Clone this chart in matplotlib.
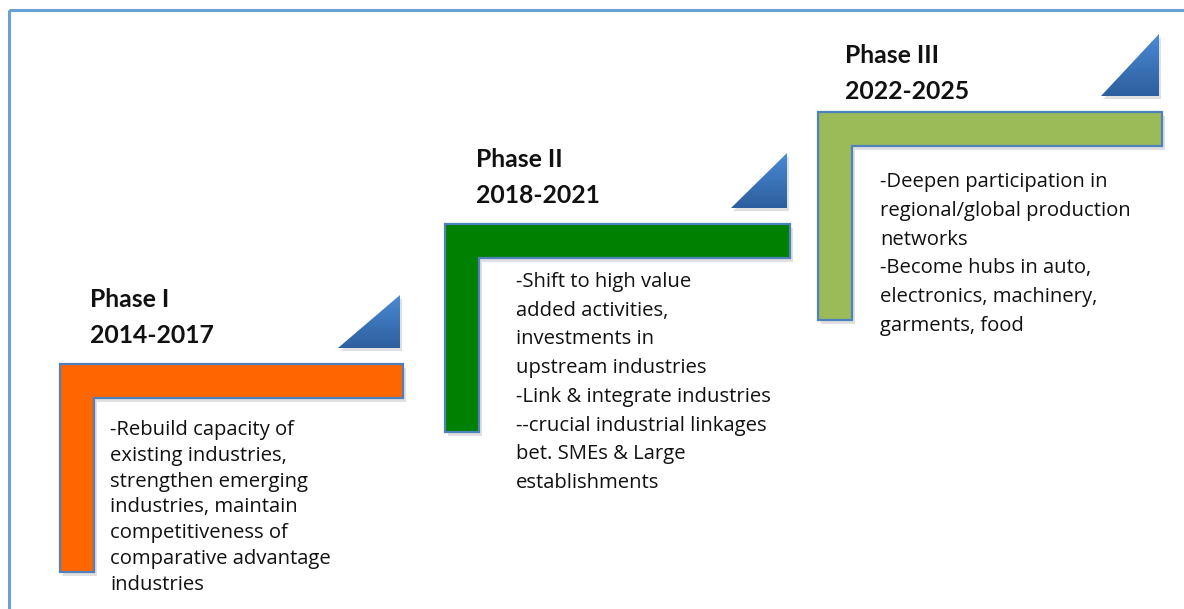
import numpy as np
import matplotlib
matplotlib.use("Agg")
import matplotlib.pyplot as plt
from matplotlib.patches import Polygon
from matplotlib.colors import LinearSegmentedColormap

# ---- content ----
phases = ["Phase I", "Phase II", "Phase III"]
periods = ["2014-2017", "2018-2021", "2022-2025"]
descriptions = [
    ["-Rebuild capacity of", "existing industries,", "strengthen emerging",
     "industries, maintain", "competitiveness of", "comparative advantage",
     "industries"],
    ["-Shift to high value", "added activities,", "investments in",
     "upstream industries", "-Link & integrate industries",
     "--crucial industrial linkages", "bet. SMEs & Large", "establishments"],
    ["-Deepen participation in", "regional/global production", "networks",
     "-Become hubs in auto,", "electronics, machinery,", "garments, food"],
]
step_colors = ["#ff6600", "#008000", "#9bbb59"]

# ---- layout (pixel space of a 1184x609 canvas) ----
W, H = 1184, 609
step_left = [60, 445, 818]
step_top = [364, 224, 112]
step_width = [343, 345, 344]
bar_thick = 34
step_height = [208, 208, 208]
title_x = [90, 476, 845]
title_base = [307, 167, 63]
title_gap = 36
body_x = [110, 516, 880]
body_base = [435, 287, 187]
body_gap = [25.8, 28.7, 28.8]
tri_size = [(62, 53), (56, 55), (58, 62)]
tri_gap = 16

plt.rcParams['font.family'] = ['Lato', 'DejaVu Sans']

fig = plt.figure(figsize=(W / 100, H / 100), dpi=100)
ax = fig.add_axes([0, 0, 1, 1])
ax.set_axis_off()

outline = "#4f81bd"
tri_cmap = LinearSegmentedColormap.from_list("tri", ["#4a8ad4", "#2d5f9e"])

for i in range(len(phases)):
    x0, y0 = step_left[i], step_top[i]
    w, h = step_width[i], step_height[i]
    t = bar_thick
    pts = [(x0, y0), (x0 + w, y0), (x0 + w, y0 + t), (x0 + t, y0 + t),
           (x0 + t, y0 + h), (x0, y0 + h)]
    shadow = Polygon([(px + 3, py + 4) for px, py in pts], closed=True,
                     facecolor="#000000", alpha=0.12, edgecolor="none", zorder=1)
    ax.add_patch(shadow)
    ax.add_patch(Polygon(pts, closed=True, facecolor=step_colors[i],
                         edgecolor=outline, linewidth=1.6, zorder=2))

    # gradient triangle
    tw, th = tri_size[i]
    xr = x0 + w - 3
    yb = y0 - tri_gap
    tri_pts = [(xr - tw, yb), (xr, yb), (xr, yb - th)]
    ax.add_patch(Polygon([(px + 2, py + 3) for px, py in tri_pts], closed=True,
                         facecolor="#000000", alpha=0.12, edgecolor="none", zorder=1))
    tri = Polygon(tri_pts, closed=True, facecolor="none", edgecolor="none", zorder=3)
    ax.add_patch(tri)
    grad = np.linspace(0, 1, 64).reshape(-1, 1)
    im = ax.imshow(grad, cmap=tri_cmap, extent=(xr - tw, xr, yb, yb - th),
                   origin="upper", aspect="auto", zorder=3, interpolation="bilinear")
    im.set_clip_path(tri)

    ax.text(title_x[i], title_base[i], phases[i], fontsize=17.8, fontweight="bold",
            va="baseline", ha="left", color="#111111", zorder=4)
    ax.text(title_x[i], title_base[i] + title_gap, periods[i], fontsize=17.8,
            fontweight="bold", va="baseline", ha="left", color="#111111", zorder=4)
    for k, line in enumerate(descriptions[i]):
        ax.text(body_x[i], body_base[i] + k * body_gap[i], line, fontsize=14.6,
                family=['Open Sans', 'DejaVu Sans'],
                va="baseline", ha="left", color="#111111", zorder=4)

# frame
ax.plot([9, 9], [10, H], color="#6a9fd8", lw=2.2, solid_capstyle="butt", zorder=0)
ax.plot([9, W], [10, 10], color="#6a9fd8", lw=2.2, solid_capstyle="butt", zorder=0)

ax.set_xlim(0, W)
ax.set_ylim(H, 0)
fig.savefig("out.png", dpi=100, facecolor="white")
